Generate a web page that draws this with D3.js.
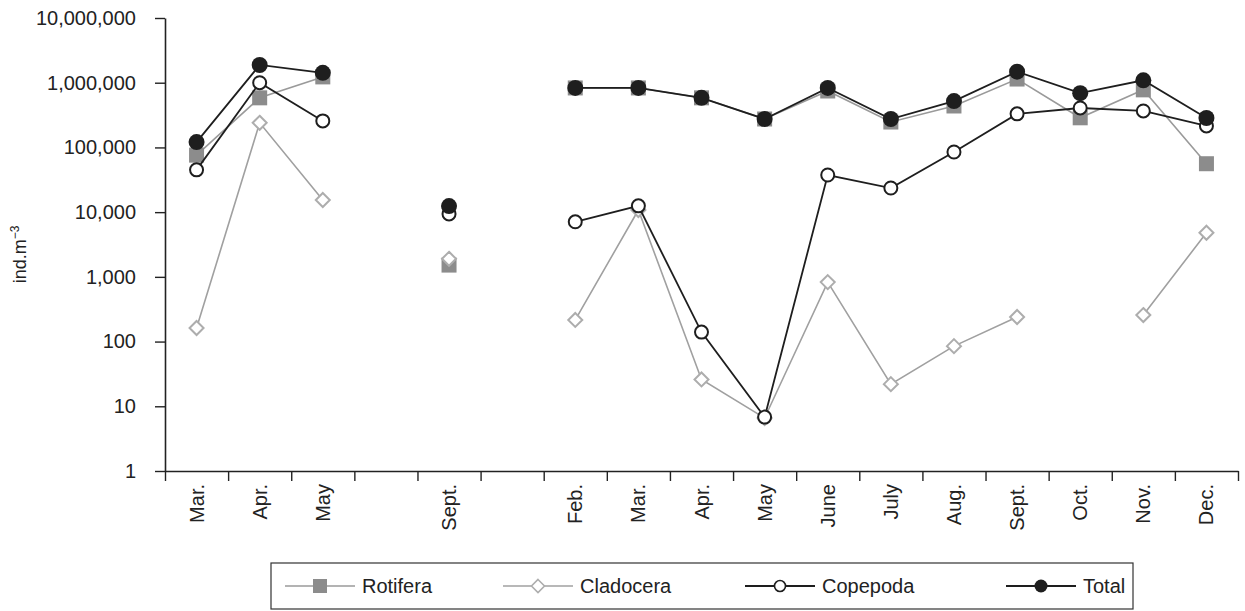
<!DOCTYPE html>
<html>
<head>
<meta charset="utf-8">
<script src="https://cdn.jsdelivr.net/npm/d3@7"></script>
<style>
  html, body { margin: 0; padding: 0; background: #fff; }
  svg { display: block; font-family: "Liberation Sans", Arial, sans-serif; }
</style>
</head>
<body>
<svg id="chart" width="1245" height="611"></svg>
<script>
// Month slots along the x axis; empty strings are unsampled gaps between campaigns
const categories = ["Mar.", "Apr.", "May", "", "Sept.", "", "Feb.", "Mar.", "Apr.", "May",
                    "June", "July", "Aug.", "Sept.", "Oct.", "Nov.", "Dec."];

// Densities (ind.m-3); null = no value / not sampled
const rotifera  = [76000, 584000, 1230000, null, 1520, null, 830000, 830000, 584000, 275000,
                   745000, 247000, 437000, 1140000, 287000, 776000, 56000];
const cladocera = [162, 240000, 15400, null, 1900, null, 216, 10800, 26, 6.6,
                   830, 22, 85, 240, null, 257, 4800];
const copepoda  = [45000, 1000000, 257000, null, 9400, null, 7100, 12500, 140, 6.8,
                   37500, 23600, 85000, 330000, 407000, 366000, 215000];
const total     = [121000, 1880000, 1420000, null, 12400, null, 830000, 830000, 584000, 275000,
                   830000, 275000, 520000, 1480000, 690000, 1090000, 285000];

const yTicks = [1, 10, 100, 1000, 10000, 100000, 1000000, 10000000];
const seriesNames = ["Rotifera", "Cladocera", "Copepoda", "Total"];

const svg = d3.select("#chart");
const plotLeft = 165, plotRight = 1238, plotTop = 18, plotBottom = 471;

const x = d3.scaleBand().domain(d3.range(categories.length)).range([plotLeft, plotRight]).padding(0);
const xEdge = d3.scaleLinear().domain([0, categories.length]).range([plotLeft, plotRight]);
const y = d3.scaleLog().domain([1, 1e7]).range([plotBottom, plotTop]);

const styles = {
  Rotifera:  { line: "#9a9a9a", width: 1.6, marker: "square",  fill: "#8c8c8c", stroke: "#8c8c8c" },
  Cladocera: { line: "#a0a0a0", width: 1.6, marker: "diamond", fill: "#fff",    stroke: "#adadad" },
  Copepoda:  { line: "#1e1e1e", width: 1.8, marker: "open",    fill: "#fff",    stroke: "#1e1e1e" },
  Total:     { line: "#1e1e1e", width: 1.8, marker: "dot",     fill: "#1e1e1e", stroke: "#1e1e1e" }
};
const seriesData = { Rotifera: rotifera, Cladocera: cladocera, Copepoda: copepoda, Total: total };

function drawMarker(g, type, cx, cy, st) {
  if (type === "square") {
    g.append("rect").attr("x", cx - 7.5).attr("y", cy - 7.5).attr("width", 15).attr("height", 15)
      .attr("fill", st.fill);
  } else if (type === "diamond") {
    const r = 7;
    g.append("path").attr("d", `M${cx},${cy - r}L${cx + r},${cy}L${cx},${cy + r}L${cx - r},${cy}Z`)
      .attr("fill", st.fill).attr("stroke", st.stroke).attr("stroke-width", 2);
  } else if (type === "open") {
    g.append("circle").attr("cx", cx).attr("cy", cy).attr("r", 6.5)
      .attr("fill", st.fill).attr("stroke", st.stroke).attr("stroke-width", 2);
  } else {
    g.append("circle").attr("cx", cx).attr("cy", cy).attr("r", 8).attr("fill", st.fill);
  }
}

// Axes
const yAxis = d3.axisLeft(y).tickValues(yTicks).tickFormat(d3.format(",")).tickSize(10).tickSizeOuter(0);
const gy = svg.append("g").attr("transform", `translate(${plotLeft},0)`).call(yAxis);
gy.select(".domain").attr("stroke", "#222").attr("stroke-width", 1.6);
gy.selectAll(".tick line").attr("stroke", "#222").attr("stroke-width", 1.4);
gy.selectAll(".tick text").attr("font-size", 20).attr("fill", "#222").attr("x", -29)
  .attr("font-family", "Liberation Sans, Arial, sans-serif");

const xAxis = d3.axisBottom(xEdge).tickValues(d3.range(categories.length + 1)).tickFormat("")
  .tickSize(10).tickSizeOuter(0);
const gx = svg.append("g").attr("transform", `translate(0,${plotBottom})`).call(xAxis);
gx.select(".domain").attr("stroke", "#222").attr("stroke-width", 1.6);
gx.selectAll(".tick line").attr("stroke", "#222").attr("stroke-width", 1.4);

// Month labels, rotated
svg.append("g").selectAll("text").data(categories.map((c, i) => ({ c, i })).filter(d => d.c))
  .join("text")
  .attr("transform", d => `translate(${x(d.i) + x.bandwidth() / 2 + 7},${plotBottom + 13}) rotate(-90)`)
  .attr("text-anchor", "end")
  .attr("font-size", 20).attr("fill", "#222")
  .text(d => d.c);

// Y axis title
const yt = svg.append("text").attr("transform", `translate(26,${(plotTop + plotBottom) / 2 + 10}) rotate(-90)`)
  .attr("text-anchor", "middle").attr("font-size", 18).attr("fill", "#222");
yt.append("tspan").text("ind.m");
yt.append("tspan").attr("dy", -7).attr("font-size", 12).text("−3");

// Series lines and markers
const plot = svg.append("g");
seriesNames.forEach(name => {
  const st = styles[name];
  const vals = seriesData[name];
  const line = d3.line()
    .defined(d => d.v != null)
    .x(d => x(d.i) + x.bandwidth() / 2)
    .y(d => y(d.v));
  const pts = vals.map((v, i) => ({ v, i }));
  // lines only join consecutive sampled months
  plot.append("path").datum(pts).attr("d", line)
    .attr("fill", "none").attr("stroke", st.line).attr("stroke-width", st.width);
  const mg = plot.append("g");
  pts.filter(d => d.v != null).forEach(d => drawMarker(mg, st.marker, x(d.i) + x.bandwidth() / 2, y(d.v), st));
});

// Legend
const lg = svg.append("g");
lg.append("rect").attr("x", 271).attr("y", 563).attr("width", 862).attr("height", 46)
  .attr("fill", "#fff").attr("stroke", "#333").attr("stroke-width", 1.2);
const legendX = [285, 503, 745, 1006];
seriesNames.forEach((name, k) => {
  const st = styles[name];
  const lx = legendX[k], ly = 586;
  lg.append("line").attr("x1", lx).attr("x2", lx + 70).attr("y1", ly).attr("y2", ly)
    .attr("stroke", st.line).attr("stroke-width", st.width);
  const mg = lg.append("g");
  if (st.marker === "square") {
    mg.append("rect").attr("x", lx + 35 - 7).attr("y", ly - 7).attr("width", 14).attr("height", 14).attr("fill", st.fill);
  } else if (st.marker === "diamond") {
    const r = 6.5, cx = lx + 35;
    mg.append("path").attr("d", `M${cx},${ly - r}L${cx + r},${ly}L${cx},${ly + r}L${cx - r},${ly}Z`)
      .attr("fill", "#fff").attr("stroke", st.stroke).attr("stroke-width", 1.6);
  } else if (st.marker === "open") {
    mg.append("circle").attr("cx", lx + 35).attr("cy", ly).attr("r", 5.5)
      .attr("fill", "#fff").attr("stroke", st.stroke).attr("stroke-width", 1.6);
  } else {
    mg.append("circle").attr("cx", lx + 35).attr("cy", ly).attr("r", 6.5).attr("fill", st.fill);
  }
  lg.append("text").attr("x", lx + 77).attr("y", ly + 7).attr("font-size", 20).attr("fill", "#222")
    .text(name);
});
</script>
</body>
</html>
